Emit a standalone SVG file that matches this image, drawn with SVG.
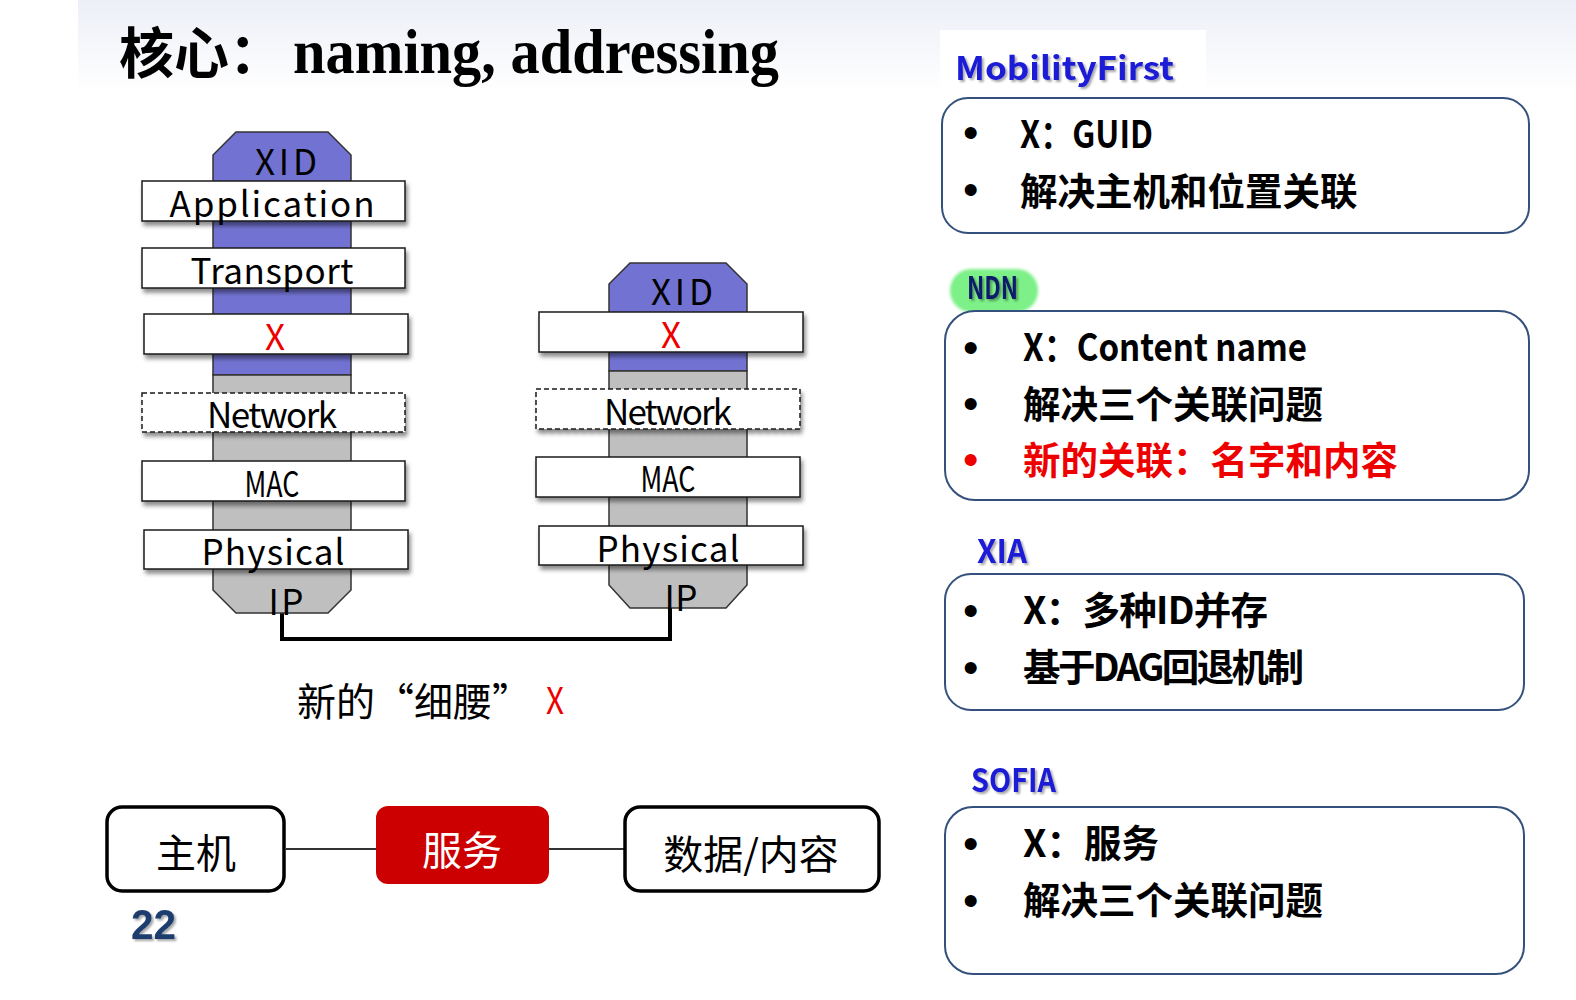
<svg xmlns="http://www.w3.org/2000/svg" width="1576" height="1000" viewBox="0 0 1576 1000">
  <defs>
    <linearGradient id="band" x1="0" y1="0" x2="0" y2="1">
      <stop offset="0" stop-color="#eceff7"/>
      <stop offset="1" stop-color="#ffffff"/>
    </linearGradient>
    <filter id="boxShadow" x="-10%" y="-30%" width="120%" height="170%">
      <feDropShadow dx="2" dy="4" stdDeviation="2.2" flood-color="#000" flood-opacity="0.45"/>
    </filter>
    <filter id="textShadow" x="-10%" y="-20%" width="130%" height="150%">
      <feDropShadow dx="2" dy="2" stdDeviation="1" flood-color="#000" flood-opacity="0.35"/>
    </filter>
    <filter id="soft" x="-20%" y="-30%" width="140%" height="160%">
      <feGaussianBlur stdDeviation="1.5"/>
    </filter>
  </defs>
  <style>
    .layer { fill: #ffffff; stroke: #1a1a1a; stroke-width: 1.5; filter: url(#boxShadow); }
    .dashed { stroke-dasharray: 5 3; }
    .purple { fill: #7272d2; stroke: #333; stroke-width: 1.5; }
    .gray { fill: #bfbfbf; stroke: #333; stroke-width: 1.5; }
    .lbl { font-family: "Noto Sans CJK SC", "Liberation Sans", sans-serif; font-size: 35px; fill: #000; text-anchor: middle; }
    .card { fill: #ffffff; stroke: #34507c; stroke-width: 2; }
    .item { font-family: "Noto Sans CJK SC", "Liberation Sans", sans-serif; font-size: 37.5px; font-weight: bold; fill: #000; }
    .bullet { font-family: "Liberation Sans", sans-serif; font-size: 44px; fill: #000; }
    .head { font-family: "Noto Sans CJK SC", "Liberation Sans", sans-serif; font-size: 32px; font-weight: bold; fill: #1a1ad6; filter: url(#textShadow); }
    .plain { font-family: "Noto Sans CJK SC", sans-serif; font-size: 40px; fill: #000; text-anchor: middle; }
    .conn { stroke: #000; stroke-width: 4; fill: none; }
    .link { stroke: #333; stroke-width: 2; fill: none; }
    .ent { fill: #ffffff; stroke: #000; stroke-width: 3.5; }
    .lbl.red, .item.red, .bullet.red { fill: #ee0000; }
  </style>

  <!-- header band -->
  <rect x="78" y="0" width="1498" height="92" fill="url(#band)"/>
  <rect x="940" y="30" width="266" height="58" fill="#ffffff"/>

  <!-- title -->
  <g id="title">
    <text x="119" y="73" font-family="Noto Sans CJK SC, sans-serif" font-size="55" font-weight="bold" fill="#000">核心：</text>
    <text x="293" y="73" font-family="Liberation Serif, serif" font-size="64" font-weight="bold" fill="#000" textLength="486" lengthAdjust="spacingAndGlyphs">naming, addressing</text>
  </g>

  <!-- connectors -->
  <g id="connectors">
    <polyline class="conn" points="282,600 282,639 670,639 670,600"/>
    <line class="link" x1="286" y1="849" x2="376" y2="849"/>
    <line class="link" x1="549" y1="849" x2="625" y2="849"/>
  </g>

  <!-- left protocol stack -->
  <g id="stack-left">
    <polygon class="purple" points="213,375 213,155 236,132 328,132 351,155 351,375"/>
    <polygon class="gray" points="213,375 351,375 351,590 328,613 236,613 213,590"/>
    <text class="lbl" x="286" y="175" textLength="62" font-size="36">XID</text>
    <rect class="layer" x="142" y="181" width="263" height="40"/>
    <text class="lbl" x="272" y="217" textLength="205">Application</text>
    <rect class="layer" x="142" y="248" width="263" height="40"/>
    <text class="lbl" x="272" y="284" textLength="163">Transport</text>
    <rect class="layer" x="144" y="314" width="264" height="40"/>
    <text class="lbl red" x="275" y="350">X</text>
    <rect class="layer dashed" x="142" y="393" width="263" height="39"/>
    <text class="lbl" x="272" y="428" textLength="130">Network</text>
    <rect class="layer" x="142" y="461" width="263" height="40"/>
    <text class="lbl" x="272" y="497" textLength="55" lengthAdjust="spacingAndGlyphs">MAC</text>
    <rect class="layer" x="144" y="530" width="264" height="39"/>
    <text class="lbl" x="273" y="565" textLength="143">Physical</text>
    <text class="lbl" x="286" y="615" textLength="35">IP</text>
  </g>

  <!-- right protocol stack -->
  <g id="stack-right">
    <polygon class="purple" points="609,371 609,284 630,263 726,263 747,284 747,371"/>
    <polygon class="gray" points="609,371 747,371 747,585 726,608 630,608 609,585"/>
    <text class="lbl" x="682" y="305" textLength="62" font-size="36">XID</text>
    <rect class="layer" x="539" y="312" width="264" height="40"/>
    <text class="lbl red" x="671" y="348">X</text>
    <rect class="layer dashed" x="536" y="389" width="264" height="40"/>
    <text class="lbl" x="668" y="425" textLength="128">Network</text>
    <rect class="layer" x="536" y="457" width="264" height="40"/>
    <text class="lbl" x="668" y="492" textLength="55" lengthAdjust="spacingAndGlyphs">MAC</text>
    <rect class="layer" x="539" y="526" width="264" height="39"/>
    <text class="lbl" x="668" y="562" textLength="143">Physical</text>
    <text class="lbl" x="681" y="611" textLength="33">IP</text>
  </g>

  <!-- caption -->
  <g id="caption">
    <text x="297" y="716" font-family="Noto Sans CJK SC, sans-serif" font-size="39" fill="#000" textLength="234">新的“细腰”</text>
    <text x="546" y="714" font-family="Noto Sans CJK SC, sans-serif" font-size="37" fill="#ee0000" textLength="18" lengthAdjust="spacingAndGlyphs">X</text>
  </g>

  <!-- bottom relation chain -->
  <g id="node-host">
    <rect class="ent" x="107" y="807" width="177" height="84" rx="15"/>
    <text class="plain" x="196" y="868">主机</text>
  </g>
  <g id="node-service">
    <rect x="376" y="806" width="173" height="78" rx="12" fill="#cc0000"/>
    <text class="plain" x="462" y="865" style="fill:#ffffff">服务</text>
  </g>
  <g id="node-data">
    <rect class="ent" x="625" y="807" width="254" height="84" rx="15"/>
    <text class="plain" x="751" y="869">数据/内容</text>
  </g>

  <g id="page-number">
    <text x="131" y="939" font-family="Liberation Sans, sans-serif" font-size="42" font-weight="bold" fill="#1b3d6e" textLength="45" lengthAdjust="spacingAndGlyphs" filter="url(#textShadow)">22</text>
  </g>

  <!-- MobilityFirst -->
  <g id="mobilityfirst">
    <text class="head" x="955" y="80" textLength="219" lengthAdjust="spacingAndGlyphs">MobilityFirst</text>
    <rect class="card" x="942" y="98" width="587" height="135" rx="26"/>
    <text class="bullet" x="963" y="148">•</text>
    <text class="item" x="1020" y="148" textLength="133" lengthAdjust="spacingAndGlyphs">X：GUID</text>
    <text class="bullet" x="963" y="205">•</text>
    <text class="item" x="1020" y="205">解决主机和位置关联</text>
  </g>

  <!-- NDN -->
  <g id="ndn">
    <rect x="950" y="269" width="88" height="43" rx="21" fill="#7df088" filter="url(#soft)"/>
    <text x="967" y="299" font-family="Noto Sans CJK SC, Liberation Sans, sans-serif" font-size="31" font-weight="bold" fill="#0c1a6a" textLength="51" lengthAdjust="spacingAndGlyphs" filter="url(#textShadow)">NDN</text>
    <rect class="card" x="945" y="311" width="584" height="189" rx="30"/>
    <text class="bullet" x="963" y="363">•</text>
    <text class="item" x="1023" y="361" textLength="284" lengthAdjust="spacingAndGlyphs">X：Content name</text>
    <text class="bullet" x="963" y="419">•</text>
    <text class="item" x="1023" y="418">解决三个关联问题</text>
    <text class="bullet red" x="963" y="475">•</text>
    <text class="item red" x="1023" y="474">新的关联：名字和内容</text>
  </g>

  <!-- XIA -->
  <g id="xia">
    <text class="head" x="977" y="563" textLength="50" lengthAdjust="spacingAndGlyphs">XIA</text>
    <rect class="card" x="945" y="574" width="579" height="136" rx="26"/>
    <text class="bullet" x="963" y="626">•</text>
    <text class="item" x="1023" y="624" textLength="245">X：多种ID并存</text>
    <text class="bullet" x="963" y="683">•</text>
    <text class="item" x="1023" y="681" textLength="281">基于DAG回退机制</text>
  </g>

  <!-- SOFIA -->
  <g id="sofia">
    <text class="head" x="971" y="792" textLength="85" lengthAdjust="spacingAndGlyphs">SOFIA</text>
    <rect class="card" x="945" y="807" width="579" height="167" rx="28"/>
    <text class="bullet" x="963" y="859">•</text>
    <text class="item" x="1023" y="857">X：服务</text>
    <text class="bullet" x="963" y="916">•</text>
    <text class="item" x="1023" y="914">解决三个关联问题</text>
  </g>
</svg>
